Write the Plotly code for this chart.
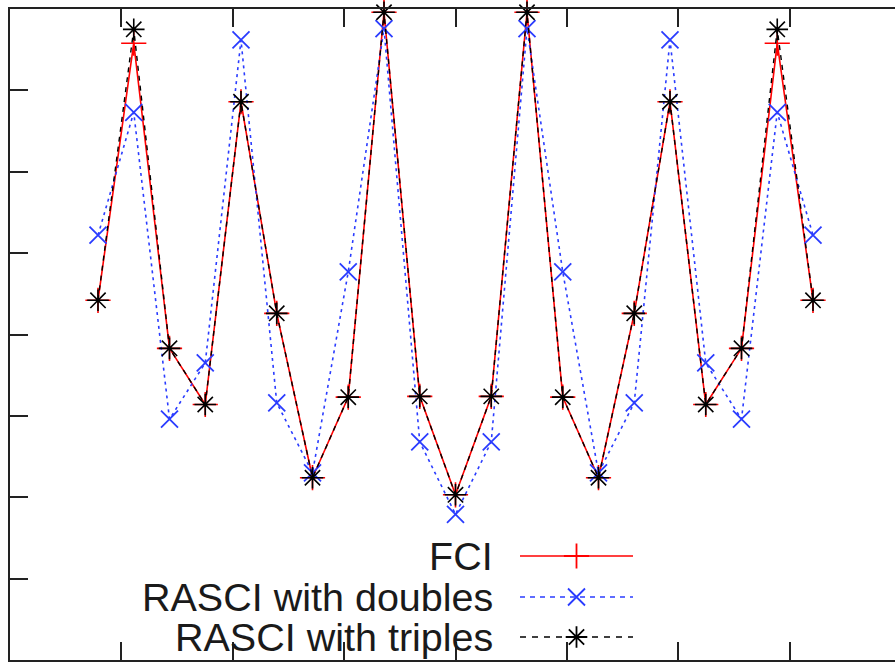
import plotly.graph_objects as go

# ---- data ----
idx = list(range(21))
fci = [4.42, 7.58, 3.83, 3.14, 6.86, 4.26, 2.24, 3.23, 7.96, 3.24, 2.03,
       3.24, 7.96, 3.23, 2.24, 4.26, 6.86, 3.14, 3.83, 7.58, 4.42]
rasci_doubles = [5.22, 6.73, 2.96, 3.65, 7.62, 3.16, 2.30, 4.77, 7.76, 2.68, 1.79,
                 2.68, 7.76, 4.77, 2.30, 3.16, 7.62, 3.65, 2.96, 6.73, 5.22]
rasci_triples = [4.42, 7.75, 3.83, 3.14, 6.86, 4.26, 2.24, 3.23, 7.96, 3.24, 2.03,
                 3.24, 7.96, 3.23, 2.24, 4.26, 6.86, 3.14, 3.83, 7.75, 4.42]
series_names = ["FCI", "RASCI with doubles", "RASCI with triples"]

RED = "#ff0000"
BLUE = "#2a3cff"
BLACK = "#000000"

fig = go.Figure()

fig.add_trace(go.Scatter(x=idx, y=fci, mode="lines+markers", cliponaxis=False,
                         line=dict(color=RED, width=1.6),
                         marker=dict(symbol="cross-thin-open", size=18, color=RED,
                                     line=dict(color=RED, width=1.6)),
                         showlegend=False))
fig.add_trace(go.Scatter(x=idx, y=rasci_doubles, mode="lines+markers", cliponaxis=False,
                         line=dict(color=BLUE, width=1.6, dash="3px,4px"),
                         marker=dict(symbol="x-thin-open", size=17, color=BLUE,
                                     line=dict(color=BLUE, width=1.8)),
                         showlegend=False))
fig.add_trace(go.Scatter(x=idx, y=rasci_triples, mode="lines+markers", cliponaxis=False,
                         line=dict(color=BLACK, width=1.4, dash="5px,5px"),
                         marker=dict(symbol="asterisk-open", size=18, color=BLACK,
                                     line=dict(color=BLACK, width=1.6)),
                         showlegend=False))

# ---- manual legend (text right-aligned, sample to the right) ----
leg_x_text = 495
leg_x0, leg_x1 = 520, 633
leg_ys = [556, 597, 637]
styles = [
    dict(color=RED, dash="solid", symbol="cross-thin-open", size=18, lw=1.6),
    dict(color=BLUE, dash="5px,5px", symbol="x-thin-open", size=17, lw=1.6),
    dict(color=BLACK, dash="6px,6px", symbol="asterisk-open", size=18, lw=1.4),
]
for name, yy, st in zip(series_names, leg_ys, styles):
    fig.add_trace(go.Scatter(x=[leg_x0, leg_x1], y=[yy, yy], mode="lines",
                             xaxis="x3", yaxis="y3", cliponaxis=False,
                             line=dict(color=st["color"], width=st["lw"], dash=st["dash"]),
                             showlegend=False, hoverinfo="skip"))
    fig.add_trace(go.Scatter(x=[(leg_x0 + leg_x1) / 2], y=[yy], mode="markers",
                             xaxis="x3", yaxis="y3", cliponaxis=False,
                             marker=dict(symbol=st["symbol"], size=st["size"], color=st["color"],
                                         line=dict(color=st["color"], width=1.8)),
                             showlegend=False, hoverinfo="skip"))
    fig.add_annotation(x=leg_x_text, y=yy, xref="x3", yref="y3", text=name,
                       showarrow=False, xanchor="right", yanchor="middle",
                       font=dict(family="Liberation Sans, Arial, sans-serif", size=39.5, color="#1a1a1a"))

# x axis: center point (index 10) at a tick, ticks every ~3.115 index units
px_per_idx = 35.75
left_px, right_px, center_px = 10, 895, 455.5
x_lo = 10 + (left_px - center_px) / px_per_idx
x_hi = 10 + (right_px - center_px) / px_per_idx

fig.update_layout(
    width=895, height=662,
    margin=dict(l=10, r=0, t=9, b=2),
    paper_bgcolor="white", plot_bgcolor="white",
    xaxis=dict(range=[x_lo, x_hi], tick0=10, dtick=3.115, ticks="inside", ticklen=18,
               tickwidth=2, tickcolor="#222", showticklabels=False, showgrid=False,
               zeroline=False, showline=True, linewidth=2, linecolor="#222", mirror="ticks"),
    yaxis=dict(range=[0, 8], dtick=1, ticks="inside", ticklen=18, tickwidth=2,
               tickcolor="#222", showticklabels=False, showgrid=False, zeroline=False,
               showline=True, linewidth=2, linecolor="#222", mirror=False),
    yaxis2=dict(range=[0, 8], dtick=1, overlaying="y", side="right", anchor="x",
                ticks="inside", ticklen=13, tickwidth=2, tickcolor="#222",
                showticklabels=False, showgrid=False, zeroline=False, showline=False),
    xaxis3=dict(range=[10, 895], overlaying="x", visible=False),
    yaxis3=dict(range=[660, 9], overlaying="y", visible=False, anchor="x3"),
)

fig.write_html(
    "out.html",
    config={"displayModeBar": False},
    post_script="document.body.style.margin='0';document.body.style.overflow='hidden';",
)
